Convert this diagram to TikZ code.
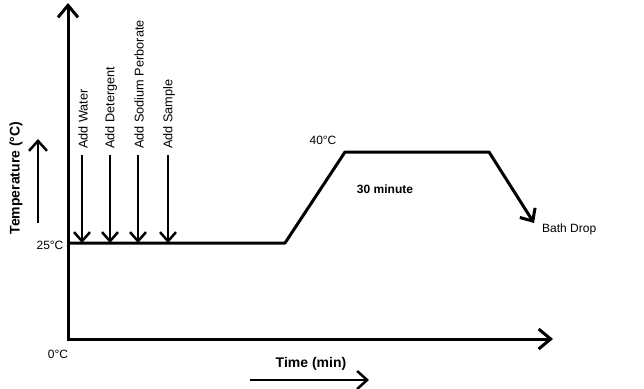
\documentclass[tikz,border=0pt]{standalone}
\usepackage{fontspec}
\setmainfont{Liberation Sans}
\usetikzlibrary{arrows.meta}

\begin{document}
\begin{tikzpicture}[
    x=1pt, y=-1pt,
    axis/.style={line width=3pt, line join=miter, {Straight Barb[length=12pt,width=20pt]}-{Straight Barb[length=12pt,width=20pt]}},
    profile/.style={line width=3pt, line join=round, -{Straight Barb[length=10pt,width=18pt]}},
    addarrow/.style={line width=2.5pt, -{Straight Barb[length=9pt,width=16pt]}},
    dirarrow/.style={line width=2.5pt, -{Straight Barb[length=10pt,width=18pt]}},
    txt/.style={font=\fontsize{12}{14}\selectfont, inner sep=0pt},
    addlabel/.style={txt, font=\fontsize{12.7}{14}\selectfont, rotate=90, anchor=west},
    bigtxt/.style={font=\fontsize{14}{16}\selectfont\bfseries, inner sep=0pt}
  ]
  \useasboundingbox (0,0) rectangle (644,388);

  % axes
  \coordinate (ytop) at (68,3);
  \coordinate (origin) at (68,339);
  \coordinate (xend) at (553,339);
  \draw[axis] (ytop) -- (origin) -- (xend);

  % temperature profile
  \coordinate (start) at (68,243);
  \coordinate (ramp) at (285,243);
  \coordinate (hold) at (345,152);
  \coordinate (cool) at (489,152);
  \coordinate (drop) at (534,223);
  \draw[profile] (start) -- (ramp) -- (hold) -- (cool) -- (drop);

  % additions
  \foreach \name/\px/\lbl in {water/82/Add Water, deterg/110/Add Detergent,
      perb/138/Add Sodium Perborate, sample/168/Add Sample} {
    \coordinate (\name top) at (\px,155);
    \coordinate (\name bot) at (\px,243);
    \draw[addarrow] (\name top) -- (\name bot);
    \node[addlabel] (\name) at (\px+1,149) {\lbl};
  }

  % labels
  \node[txt] (t25) at (50,245) {25°C};
  \node[txt] (t0) at (58,354) {0°C};
  \node[txt] (t40) at (323,140) {40°C};
  \node[txt, font=\fontsize{12}{14}\selectfont\bfseries] (hold30) at (385,189) {30 minute};
  \node[txt, anchor=west] (bath) at (542,229) {Bath Drop};

  % axis titles
  \node[bigtxt, rotate=90] (temp) at (16,178) {Temperature (°C)};
  \coordinate (tempa) at (38,223);
  \coordinate (tempb) at (38,139);
  \draw[dirarrow] (tempa) -- (tempb);

  \node[bigtxt] (time) at (311,364) {Time (min)};
  \coordinate (timea) at (250,380);
  \coordinate (timeb) at (369,380);
  \draw[dirarrow] (timea) -- (timeb);
\end{tikzpicture}
\end{document}
